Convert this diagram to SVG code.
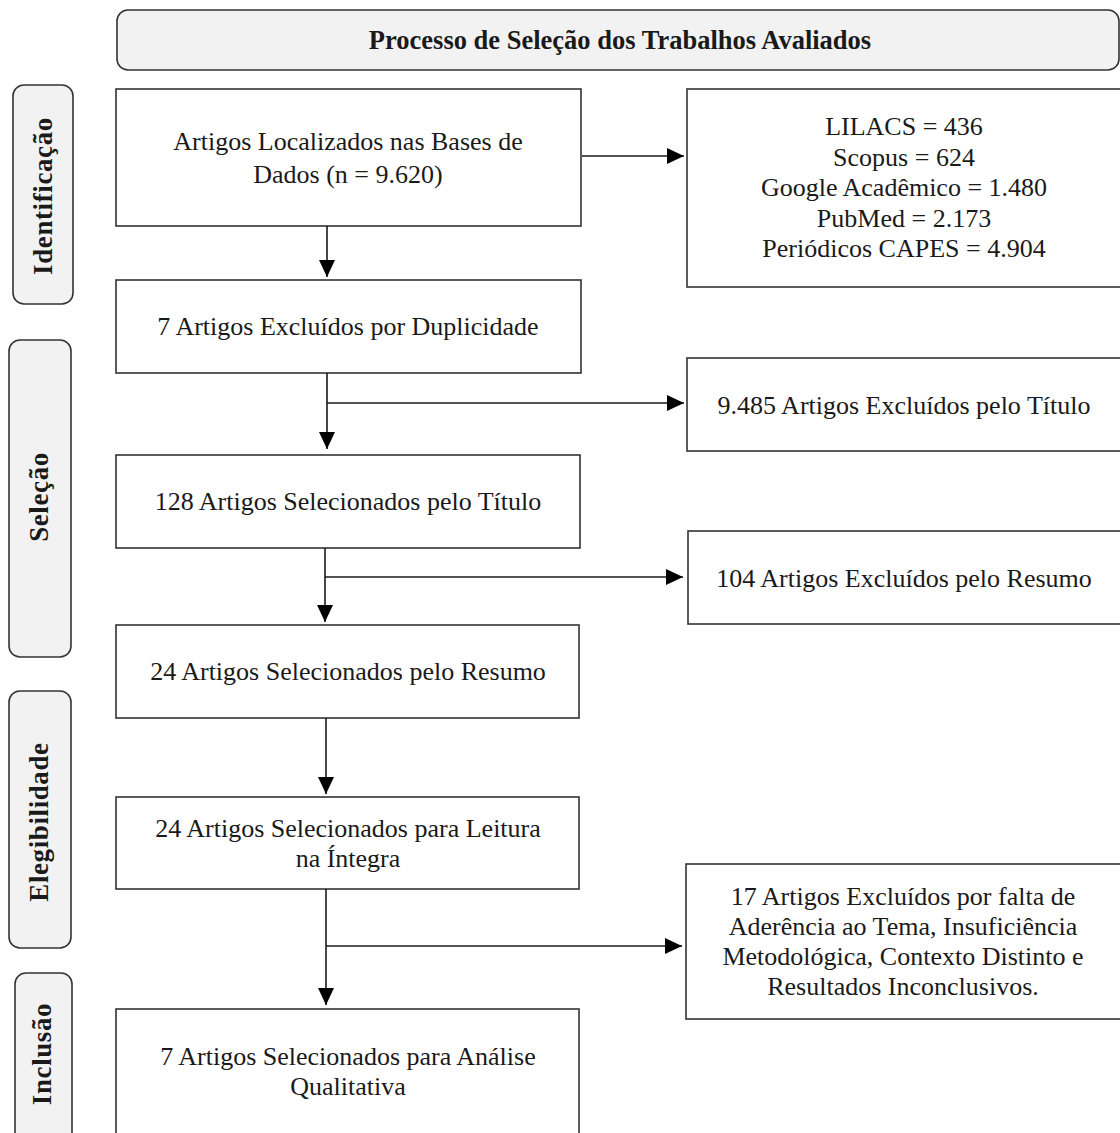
<svg xmlns="http://www.w3.org/2000/svg" width="1120" height="1133" viewBox="0 0 1120 1133">
<style>
.box{fill:#ffffff;stroke:#333333;stroke-width:1.6}
.rbox{fill:#f2f2f2;stroke:#333333;stroke-width:1.6}
.t{font-family:"Liberation Serif","Times New Roman",serif;font-size:26px;fill:#1a1a1a;text-anchor:middle}
.b{font-family:"Liberation Serif","Times New Roman",serif;font-size:26.5px;font-weight:bold;fill:#1a1a1a;text-anchor:middle}
.s{font-family:"Liberation Serif","Times New Roman",serif;font-size:27px;font-weight:bold;letter-spacing:0.6px;fill:#1a1a1a;text-anchor:middle}
.c{fill:none;stroke:#1a1a1a;stroke-width:1.6}
</style>
<defs>
<marker id="ah" viewBox="0 0 17 16" refX="17" refY="8" markerWidth="17" markerHeight="16" markerUnits="userSpaceOnUse" orient="auto">
<path d="M0,0 L17,8 L0,16 z" fill="#000000"/>
</marker>
</defs>
<rect width="1120" height="1133" fill="#ffffff"/>

<g id="title">
<rect class="rbox" x="117" y="10" width="1002" height="60" rx="11"/>
<text class="b" x="620" y="49">Processo de Seleção dos Trabalhos Avaliados</text>
</g>

<g id="phase-identificacao">
<rect class="rbox" x="13" y="85" width="60" height="219" rx="11"/>
<text class="s" transform="translate(52,196) rotate(-90)">Identificação</text>
</g>
<g id="phase-selecao">
<rect class="rbox" x="9" y="340" width="62" height="317" rx="11"/>
<text class="s" transform="translate(48,497) rotate(-90)">Seleção</text>
</g>
<g id="phase-elegibilidade">
<rect class="rbox" x="9" y="691" width="62" height="257" rx="11"/>
<text class="s" transform="translate(48,822) rotate(-90)">Elegibilidade</text>
</g>
<g id="phase-inclusao">
<rect class="rbox" x="15" y="973" width="57" height="180" rx="11"/>
<text class="s" transform="translate(51,1054) rotate(-90)">Inclusão</text>
</g>

<g id="n-localizados">
<rect class="box" x="116" y="89" width="465" height="137"/>
<text class="t" x="348" y="150">Artigos Localizados nas Bases de</text>
<text class="t" x="348" y="183">Dados (n = 9.620)</text>
</g>
<g id="n-bases">
<rect class="box" x="687" y="89" width="440" height="198"/>
<text class="t" x="904" y="135">LILACS = 436</text>
<text class="t" x="904" y="166">Scopus = 624</text>
<text class="t" x="904" y="196">Google Acadêmico = 1.480</text>
<text class="t" x="904" y="227">PubMed = 2.173</text>
<text class="t" x="904" y="257">Periódicos CAPES = 4.904</text>
</g>
<g id="n-duplicidade">
<rect class="box" x="116" y="280" width="465" height="93"/>
<text class="t" x="348" y="335">7 Artigos Excluídos por Duplicidade</text>
</g>
<g id="n-excl-titulo">
<rect class="box" x="687" y="358" width="440" height="93"/>
<text class="t" x="904" y="414">9.485 Artigos Excluídos pelo Título</text>
</g>
<g id="n-sel-titulo">
<rect class="box" x="116" y="455" width="464" height="93"/>
<text class="t" x="348" y="510">128 Artigos Selecionados pelo Título</text>
</g>
<g id="n-excl-resumo">
<rect class="box" x="688" y="531" width="440" height="93"/>
<text class="t" x="904" y="587">104 Artigos Excluídos pelo Resumo</text>
</g>
<g id="n-sel-resumo">
<rect class="box" x="116" y="625" width="463" height="93"/>
<text class="t" x="348" y="680">24 Artigos Selecionados pelo Resumo</text>
</g>
<g id="n-leitura">
<rect class="box" x="116" y="797" width="463" height="92"/>
<text class="t" x="348" y="837">24 Artigos Selecionados para Leitura</text>
<text class="t" x="348" y="867">na Íntegra</text>
</g>
<g id="n-excl-final">
<rect class="box" x="686" y="864" width="440" height="155"/>
<text class="t" x="903" y="905">17 Artigos Excluídos por falta de</text>
<text class="t" x="903" y="935">Aderência ao Tema, Insuficiência</text>
<text class="t" x="903" y="965">Metodológica, Contexto Distinto e</text>
<text class="t" x="903" y="995">Resultados Inconclusivos.</text>
</g>
<g id="n-inclusao">
<rect class="box" x="116" y="1009" width="463" height="140"/>
<text class="t" x="348" y="1065">7 Artigos Selecionados para Análise</text>
<text class="t" x="348" y="1095">Qualitativa</text>
</g>

<g id="connectors">
<line class="c" x1="327" y1="226" x2="327" y2="277" marker-end="url(#ah)"/>
<line class="c" x1="582" y1="156" x2="684" y2="156" marker-end="url(#ah)"/>
<line class="c" x1="327" y1="373" x2="327" y2="449" marker-end="url(#ah)"/>
<line class="c" x1="327" y1="403" x2="684" y2="403" marker-end="url(#ah)"/>
<line class="c" x1="325" y1="548" x2="325" y2="622" marker-end="url(#ah)"/>
<line class="c" x1="325" y1="577" x2="683" y2="577" marker-end="url(#ah)"/>
<line class="c" x1="326" y1="718" x2="326" y2="794" marker-end="url(#ah)"/>
<line class="c" x1="326" y1="889" x2="326" y2="1005" marker-end="url(#ah)"/>
<line class="c" x1="326" y1="946" x2="682" y2="946" marker-end="url(#ah)"/>
</g>
</svg>
